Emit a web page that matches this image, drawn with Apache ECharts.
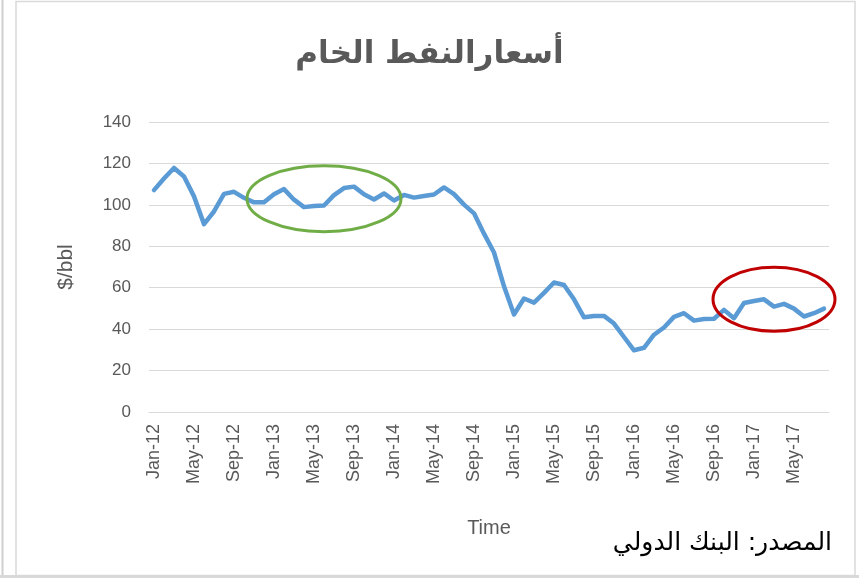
<!DOCTYPE html>
<html>
<head>
<meta charset="utf-8">
<script src="https://cdn.jsdelivr.net/npm/echarts@6/dist/echarts.min.js"></script>
<style>
html,body{margin:0;padding:0;background:#fff;}
#c{width:859px;height:578px;}
</style>
</head>
<body>
<div id="c"></div>
<script>
const monthNames = ['Jan','Feb','Mar','Apr','May','Jun','Jul','Aug','Sep','Oct','Nov','Dec'];
const years = ['12','13','14','15','16','17'];
const lastMonthCount = 8; // data ends Aug-17
const categories = [];
years.forEach(function (y, yi) {
  const n = (yi === years.length - 1) ? lastMonthCount : 12;
  for (let m = 0; m < n; m++) categories.push(monthNames[m] + '-' + y);
});

const price2012 = [107.1, 112.7, 117.8, 113.7, 104.1, 90.7, 96.8, 105.3, 106.3, 103.4, 101.2, 101.2];
const price2013 = [105.1, 107.6, 102.5, 98.9, 99.4, 99.7, 104.7, 108.1, 108.8, 105.1, 102.6, 105.5];
const price2014 = [102.1, 104.8, 103.5, 104.3, 105.0, 108.4, 105.2, 100.1, 95.9, 86.1, 77.0, 60.7];
const price2015 = [47.1, 54.8, 52.8, 57.5, 62.5, 61.3, 54.4, 45.7, 46.3, 46.4, 42.7, 36.2];
const price2016 = [29.8, 31.0, 37.3, 40.8, 45.9, 47.7, 44.1, 44.9, 45.0, 49.3, 45.3, 52.6];
const price2017 = [53.6, 54.4, 50.9, 52.2, 49.9, 46.1, 47.7, 49.9];
const prices = [].concat(price2012, price2013, price2014, price2015, price2016, price2017);

const yTicks = { min: 0, max: 140, interval: 20 };

const titleText = 'أسعارالنفط الخام';
const sourceText = 'المصدر: البنك الدولي';
const xName = 'Time';
const yName = '$/bbl';

// annotation ellipses anchored to data coordinates
const greenAnchor = ['Jun-13', 103];
const redAnchor = ['Mar-17', 54.4];

const chart = echarts.init(document.getElementById('c'), null, { renderer: 'canvas' });
const txt = '#595959';
const option = {
  animation: false,
  backgroundColor: '#ffffff',
  title: {
    text: titleText,
    left: 'center',
    top: 34,
    textStyle: { fontFamily: 'DejaVu Sans', fontWeight: 'bold', fontSize: 31, color: txt }
  },
  grid: { left: 149, right: 30, top: 122, bottom: 166, containLabel: false },
  xAxis: {
    type: 'category',
    data: categories,
    boundaryGap: true,
    name: xName,
    nameLocation: 'middle',
    nameGap: 106,
    nameTextStyle: { fontFamily: 'Liberation Sans', fontSize: 20, color: txt },
    axisLine: { show: true, lineStyle: { color: '#d9d9d9', width: 1 } },
    axisTick: { show: false },
    axisLabel: {
      interval: 3,
      rotate: 90,
      margin: 12,
      fontFamily: 'Liberation Sans',
      fontSize: 18,
      color: txt
    },
    splitLine: { show: false }
  },
  yAxis: {
    type: 'value',
    min: yTicks.min,
    max: yTicks.max,
    interval: yTicks.interval,
    name: yName,
    nameLocation: 'middle',
    nameGap: 72,
    nameRotate: 90,
    nameTextStyle: { fontFamily: 'Liberation Sans', fontSize: 21, color: txt },
    axisLine: { show: false },
    axisTick: { show: false },
    axisLabel: { margin: 18, fontFamily: 'Liberation Sans', fontSize: 17, color: txt },
    splitLine: { lineStyle: { color: '#d9d9d9', width: 1 } }
  },
  series: [{
    type: 'line',
    data: prices,
    symbol: 'none',
    smooth: false,
    lineStyle: { color: '#5b9bd5', width: 4.5, join: 'round', cap: 'round' },
    itemStyle: { color: '#5b9bd5' }
  }]
};
chart.setOption(option);

const g = chart.convertToPixel({ gridIndex: 0 }, greenAnchor);
const r = chart.convertToPixel({ gridIndex: 0 }, redAnchor);

chart.setOption({
  graphic: [
    { type: 'line', shape: { x1: 2.5, y1: 0, x2: 2.5, y2: 578 }, style: { stroke: '#d0d0d0', lineWidth: 2 }, silent: true },
    { type: 'rect', shape: { x: 16, y: 1.5, width: 839, height: 574 }, style: { fill: 'none', stroke: '#d9d9d9', lineWidth: 1.5 }, silent: true },
    { type: 'rect', shape: { x: 0, y: 575, width: 859, height: 3 }, style: { fill: '#d9d9d9' }, silent: true },
    { type: 'ellipse', shape: { cx: g[0], cy: g[1], rx: 77, ry: 33 }, style: { fill: 'none', stroke: '#70ad47', lineWidth: 3 }, z: 100, silent: true },
    { type: 'ellipse', shape: { cx: r[0], cy: r[1], rx: 61, ry: 32 }, style: { fill: 'none', stroke: '#c00000', lineWidth: 3 }, z: 100, silent: true },
    { type: 'text', right: 27, top: 531, style: { text: sourceText, fontFamily: 'DejaVu Sans', fontSize: 25, fill: '#000000' }, silent: true }
  ]
});
</script>
</body>
</html>
